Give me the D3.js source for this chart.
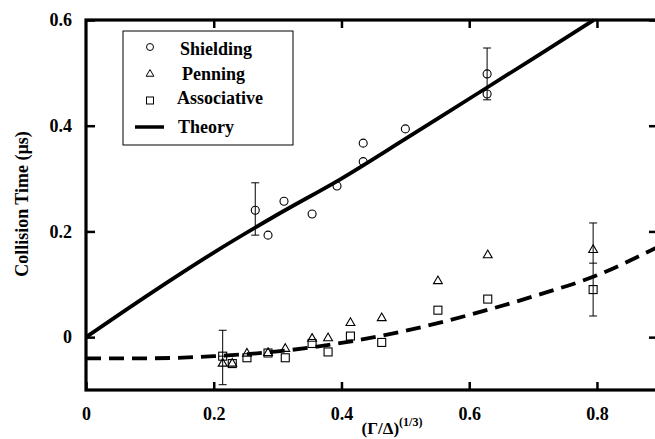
<!DOCTYPE html>
<html lang="en">
  <head>
    <meta charset="utf-8">
    <title>Collision time</title>
    <script src="https://cdn.jsdelivr.net/npm/d3@7/dist/d3.min.js"></script>
    <style>
      body { margin: 0; background: #fff; }
      text { font-family: 'Liberation Serif', 'DejaVu Serif', serif; font-weight: bold; }
    </style>
  </head>
  <body>
    <div id='chart'></div>
    <script type='text/javascript'>
      // data: [x, y]
      let shielding = [[0.265,0.240],[0.285,0.193],[0.310,0.257],[0.354,0.233],[0.393,0.286],
                       [0.434,0.332],[0.434,0.367],[0.500,0.394],[0.628,0.498],[0.628,0.460]];
      let penning = [[0.214,-0.050],[0.229,-0.050],[0.252,-0.031],[0.285,-0.030],[0.312,-0.022],
                     [0.354,-0.003],[0.379,-0.002],[0.414,0.027],[0.463,0.036],[0.551,0.106],
                     [0.629,0.155],[0.794,0.165]];
      let associative = [[0.214,-0.036],[0.229,-0.050],[0.252,-0.039],[0.285,-0.030],[0.312,-0.039],
                         [0.354,-0.012],[0.379,-0.028],[0.414,0.002],[0.463,-0.010],[0.551,0.051],
                         [0.629,0.072],[0.794,0.090]];
      // error bars: [x, low, high, middle cap or null]
      let errorBars = [[0.265,0.193,0.292,null],[0.628,0.449,0.547,null],
                       [0.214,-0.090,0.013,-0.036],[0.794,0.040,0.216,0.140]];
      let theory = [[0,0],[0.1,0.082],[0.2,0.160],[0.3,0.232],[0.4,0.300],[0.5,0.375],
                    [0.6,0.451],[0.7,0.527],[0.795,0.600]];
      let theoryDashed = [[0,-0.040],[0.1,-0.040],[0.2,-0.036],[0.3,-0.027],[0.4,-0.011],
                          [0.5,0.012],[0.6,0.042],[0.7,0.077],[0.8,0.117],[0.894,0.170]];
      let xTicks = [0, 0.2, 0.4, 0.6, 0.8];
      let yTicks = [0, 0.2, 0.4, 0.6];
      let legendItems = ['Shielding', 'Penning', 'Associative', 'Theory'];

      let margin = {top: 20, right: -2, bottom: 49, left: 86};
      let W = 655, H = 439;
      let width = W - margin.left - margin.right;
      let height = H - margin.top - margin.bottom;

      let svg = d3.select('#chart').append('svg')
        .attr('width', W)
        .attr('height', H);
      let g = svg.append('g')
        .attr('transform', 'translate(' + margin.left + ',' + margin.top + ')');

      let x = d3.scaleLinear().domain([0, 0.894]).range([0, width]);
      let y = d3.scaleLinear().domain([-0.1, 0.6]).range([height, 0]);
      let fmt = d => d === 0 ? '0' : d3.format('.1f')(d);

      // axes with inward ticks
      function styleAxis(sel) {
        sel.select('.domain').remove();
        sel.selectAll('.tick line').attr('stroke', '#000').attr('stroke-width', 2.5);
        sel.selectAll('.tick text').attr('font-size', 18).attr('fill', '#000');
      }
      g.append('g').attr('transform', 'translate(0,' + height + ')')
        .call(d3.axisBottom(x).tickValues(xTicks).tickFormat(fmt).tickSizeInner(-8).tickPadding(17))
        .call(styleAxis);
      g.append('g')
        .call(d3.axisTop(x).tickValues(xTicks.slice(1)).tickFormat('').tickSizeInner(-8))
        .call(styleAxis);
      g.append('g')
        .call(d3.axisLeft(y).tickValues(yTicks).tickFormat(fmt).tickSizeInner(-9).tickPadding(14))
        .call(styleAxis);
      g.append('g').attr('transform', 'translate(' + width + ',0)')
        .call(d3.axisRight(y).tickValues(yTicks).tickFormat('').tickSizeInner(-8))
        .call(styleAxis);

      // frame
      g.append('rect')
        .attr('width', width).attr('height', height)
        .attr('fill', 'none').attr('stroke', '#000').attr('stroke-width', 3.2);

      // error bars
      let eb = g.append('g').attr('stroke', '#000').attr('stroke-width', 1);
      errorBars.forEach(e => {
        let cx = x(e[0]);
        eb.append('line').attr('x1', cx).attr('x2', cx).attr('y1', y(e[1])).attr('y2', y(e[2]));
        [e[1], e[2], e[3]].filter(v => v !== null).forEach(v => {
          eb.append('line').attr('x1', cx - 4).attr('x2', cx + 4).attr('y1', y(v)).attr('y2', y(v));
        });
      });

      // markers
      let mk = g.append('g').attr('fill', 'none').attr('stroke', '#000').attr('stroke-width', 1.1);
      mk.selectAll('circle').data(shielding).enter().append('circle')
        .attr('cx', d => x(d[0])).attr('cy', d => y(d[1])).attr('r', 4);
      mk.selectAll('path.tri').data(penning).enter().append('path').attr('class', 'tri')
        .attr('d', d3.symbol(d3.symbolTriangle, 34))
        .attr('transform', d => 'translate(' + x(d[0]) + ',' + y(d[1]) + ')');
      mk.selectAll('rect').data(associative).enter().append('rect')
        .attr('x', d => x(d[0]) - 4).attr('y', d => y(d[1]) - 4)
        .attr('width', 8).attr('height', 8);

      // theory curves
      let line = d3.line().x(d => x(d[0])).y(d => y(d[1])).curve(d3.curveMonotoneX);
      g.append('path').datum(theory).attr('d', line)
        .attr('fill', 'none').attr('stroke', '#000').attr('stroke-width', 3.8);
      g.append('path').datum(theoryDashed).attr('d', line)
        .attr('fill', 'none').attr('stroke', '#000').attr('stroke-width', 3.8)
        .attr('stroke-dasharray', '15,8');

      // legend
      let lg = svg.append('g').attr('transform', 'translate(123,31)');
      lg.append('rect').attr('width', 170).attr('height', 114)
        .attr('fill', '#fff').attr('stroke', '#000').attr('stroke-width', 1);
      let rowY = [18, 43, 67, 96];
      lg.append('circle').attr('cx', 27).attr('cy', rowY[0] - 2).attr('r', 3.5)
        .attr('fill', 'none').attr('stroke', '#000');
      lg.append('path').attr('d', d3.symbol(d3.symbolTriangle, 26))
        .attr('transform', 'translate(27,' + rowY[1] + ')')
        .attr('fill', 'none').attr('stroke', '#000');
      lg.append('rect').attr('x', 23.5).attr('y', rowY[2] - 1).attr('width', 7).attr('height', 7)
        .attr('fill', 'none').attr('stroke', '#000');
      lg.append('line').attr('x1', 12).attr('x2', 41).attr('y1', rowY[3]).attr('y2', rowY[3])
        .attr('stroke', '#000').attr('stroke-width', 3.5);
      lg.selectAll('text.lab').data(legendItems).enter().append('text').attr('class', 'lab')
        .attr('x', (d, i) => [57, 59, 54, 55][i])
        .attr('y', (d, i) => rowY[i])
        .attr('dy', '0.35em')
        .attr('font-size', 18)
        .text(d => d);

      // axis titles
      svg.append('text')
        .attr('transform', 'translate(28,204) rotate(-90)')
        .attr('text-anchor', 'middle')
        .attr('font-size', 18)
        .text('Collision Time (µs)');
      let xl = svg.append('text')
        .attr('x', 392).attr('y', 434)
        .attr('text-anchor', 'middle')
        .attr('font-size', 17);
      xl.append('tspan').text('(Γ/Δ)');
      xl.append('tspan').attr('font-size', 12).attr('dy', -8).text('(1/3)');
    </script>
  </body>
</html>
